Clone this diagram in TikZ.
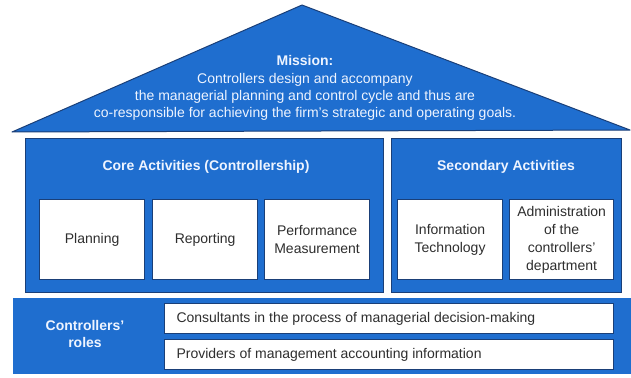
\documentclass[tikz,border=0pt]{standalone}
\usepackage{fontspec}
\setmainfont{Liberation Sans}
\begin{document}
\definecolor{houseblue}{HTML}{1F6ECF}
\definecolor{edgeblue}{HTML}{1A3F78}
\definecolor{titlewhite}{HTML}{EEF4FF}
\definecolor{bodytext}{HTML}{2E2E2E}
\begin{tikzpicture}[x=1pt,y=-1pt,
  panel/.style={draw=edgeblue,line width=1.2pt,fill=houseblue,anchor=north west,inner sep=0pt},
  card/.style={draw=edgeblue,line width=1.2pt,fill=white,anchor=north west,inner sep=0pt,
    minimum width=105pt,minimum height=80pt},
  strip/.style={draw=edgeblue,line width=1.2pt,fill=white,anchor=north west,inner sep=0pt,
    minimum width=449pt,minimum height=30pt},
  heading/.style={font=\fontsize{14}{17}\selectfont\bfseries,text=titlewhite,align=center},
  body/.style={font=\fontsize{14}{18}\selectfont,text=bodytext,align=center}
]
\useasboundingbox (0,0) rectangle (631,377);

% roof
\draw[draw=edgeblue,line width=1pt,fill=houseblue,line join=round]
  (12,132) -- (302,5) -- (630,130) -- cycle;
\node[heading] (mission) at (305,60) {Mission:};
\node[font=\fontsize{14}{17}\selectfont,text=titlewhite,align=center] (missiontext) at (305,97)
  {Controllers design and accompany\\
   the managerial planning and control cycle and thus are\\
   co-responsible for achieving the firm's strategic and operating goals.};

% core activities
\node[panel,minimum width=358pt,minimum height=154pt] (core) at (25,138) {};
\node[heading] (coretitle) at (206,167) {Core Activities (Controllership)};
\node[card] (planning) at (39,199) {};
\node[body] at (planning.center) {Planning};
\node[card] (reporting) at (152,199) {};
\node[body] at (reporting.center) {Reporting};
\node[card] (performance) at (264,199) {};
\node[body] at (performance.center) {Performance\\Measurement};

% secondary activities
\node[panel,minimum width=230pt,minimum height=154pt] (secondary) at (391,138) {};
\node[heading] (sectitle) at (506,167) {Secondary Activities};
\node[card] (it) at (397,199) {};
\node[body] at (it.center) {Information\\Technology};
\node[card,minimum width=104pt] (admin) at (509,199) {};
\node[body] at (admin.center) {Administration\\of the\\controllers'\\department};

% roles
\node[panel,minimum width=621pt,minimum height=76pt,draw=none] (roles) at (12,297) {};
\node[heading] (rolestitle) at (85,334) {Controllers'\\roles};
\node[strip] (consult) at (164,303) {};
\node[body,anchor=west] at ([xshift=9pt]consult.west) {Consultants in the process of managerial decision-making};
\node[strip] (provide) at (164,339) {};
\node[body,anchor=west] at ([xshift=9pt]provide.west) {Providers of management accounting information};
\end{tikzpicture}
\end{document}
